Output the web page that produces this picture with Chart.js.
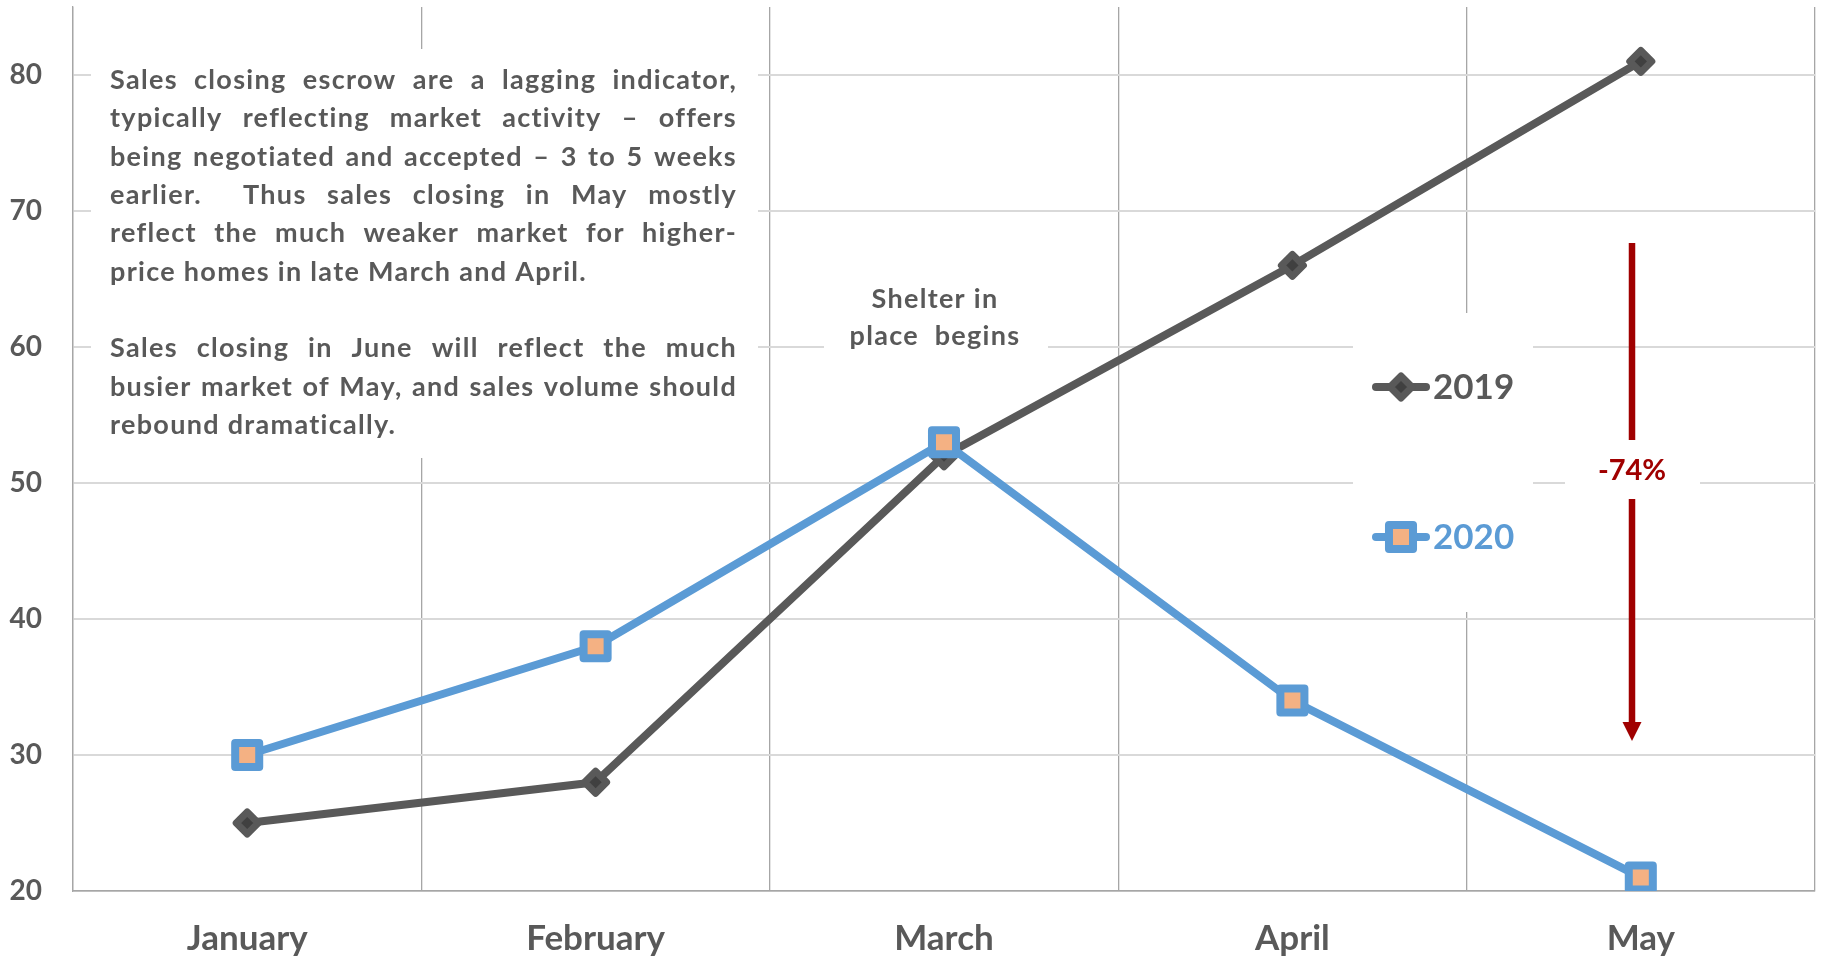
<!DOCTYPE html>
<html>
<head>
<meta charset="utf-8">
<script src="https://cdn.jsdelivr.net/npm/chart.js@4.4.1/dist/chart.umd.min.js"></script>
<style>
  html, body { margin: 0; padding: 0; background: #ffffff; }
  canvas { display: block; }
</style>
</head>
<body>
<canvas id="salesChart" width="1822" height="959"></canvas>
<script>
// Closed sales by month
const months = ['January', 'February', 'March', 'April', 'May'];
const sales2019 = [25, 28, 52, 66, 81];
const sales2020 = [30, 38, 53, 34, 21];
const yTickValues = [20, 30, 40, 50, 60, 70, 80];
const seriesLabels = ['2019', '2020'];

// Commentary text, one entry per printed line
const noteParagraphs = [
  [
    'Sales closing escrow are a lagging indicator,',
    'typically reflecting market activity \u2013 offers',
    'being negotiated and accepted \u2013 3 to 5 weeks',
    'earlier.  Thus sales closing in May mostly',
    'reflect the much weaker market for higher-',
    'price homes in late March and April.'
  ],
  [
    'Sales closing in June will reflect the much',
    'busier market of May, and sales volume should',
    'rebound dramatically.'
  ]
];
const shelterLines = ['Shelter in', 'place  begins'];

const FONT = '"Lato", "Open Sans", sans-serif';
const GREY_TEXT = '#595959';
const RED = '#A00000';

// May year-over-year change, shown next to the arrow
const mayChange = Math.round((sales2020[4] - sales2019[4]) / sales2019[4] * 100);
const changeLabel = mayChange + '%';

function drawJustified(ctx, line, x, baseline, width, justify) {
  if (!justify) { ctx.fillText(line, x, baseline); return; }
  const words = line.split(' ');
  const widths = words.map(w => ctx.measureText(w).width);
  const total = widths.reduce((a, b) => a + b, 0);
  const gap = (width - total) / (words.length - 1);
  let cx = x;
  words.forEach((w, i) => {
    if (w) ctx.fillText(w, cx, baseline);
    cx += widths[i] + gap;
  });
}

function legendMarker(ctx, ds, x, y) {
  ctx.save();
  ctx.lineCap = 'round';
  ctx.lineJoin = 'round';
  ctx.strokeStyle = ds.borderColor;
  ctx.lineWidth = 8;
  ctx.beginPath();
  ctx.moveTo(x - 25, y);
  ctx.lineTo(x + 25, y);
  ctx.stroke();
  ctx.fillStyle = ds.pointBackgroundColor;
  ctx.strokeStyle = ds.pointBorderColor;
  ctx.lineWidth = ds.pointBorderWidth;
  Chart.helpers.drawPoint(ctx, {
    pointStyle: ds.pointStyle,
    radius: ds.pointRadius,
    rotation: 0,
    borderWidth: ds.pointBorderWidth
  }, x, y);
  ctx.restore();
}

function noEdgePadding(scale) {
  scale.paddingTop = 0;
  scale.paddingBottom = 0;
  scale.paddingLeft = 0;
  scale.paddingRight = 0;
}

const annotationPlugin = {
  id: 'annotations',
  beforeDraw(chart) {
    const ctx = chart.ctx;
    ctx.save();
    ctx.fillStyle = '#ffffff';
    ctx.fillRect(0, 0, chart.width, chart.height);
    ctx.restore();
  },
  beforeDatasetsDraw(chart) {
    const ctx = chart.ctx;
    ctx.save();

    // white panels behind the text blocks
    ctx.fillStyle = '#ffffff';
    ctx.fillRect(91, 49, 667, 409);
    ctx.fillRect(824, 264, 224, 90);
    ctx.fillRect(1353, 313, 180, 299);

    // commentary block, justified
    ctx.fillStyle = GREY_TEXT;
    ctx.font = 'bold 27px ' + FONT;
    ctx.letterSpacing = '1.3px';
    ctx.textBaseline = 'alphabetic';
    ctx.textAlign = 'left';
    let row = 0;
    noteParagraphs.forEach(par => {
      par.forEach((line, i) => {
        drawJustified(ctx, line, 110, 89 + row * 38.35, 627, i < par.length - 1);
        row++;
      });
      row++;
    });

    // shelter-in-place note
    ctx.textAlign = 'center';
    ctx.fillText(shelterLines[0], 935, 308);
    ctx.fillText(shelterLines[1], 935, 345);
    ctx.letterSpacing = '0px';

    // legend
    const dsets = chart.data.datasets;
    ctx.font = 'bold 35px ' + FONT;
    ctx.textAlign = 'left';
    [[387, 399], [537, 549]].forEach(([cy, base], i) => {
      const ds = dsets[i];
      legendMarker(ctx, ds, 1401, cy);
      ctx.fillStyle = ds.legendTextColor;
      ctx.fillText(ds.label, 1433, base);
    });

    // decline arrow
    const ax = 1632;
    ctx.strokeStyle = RED;
    ctx.fillStyle = RED;
    ctx.lineWidth = 6.5;
    ctx.beginPath();
    ctx.moveTo(ax, 243);
    ctx.lineTo(ax, 726);
    ctx.stroke();
    ctx.beginPath();
    ctx.moveTo(ax - 9.5, 722);
    ctx.lineTo(ax + 9.5, 722);
    ctx.lineTo(ax, 741);
    ctx.closePath();
    ctx.fill();

    ctx.fillStyle = '#ffffff';
    ctx.fillRect(1565, 440, 135, 59);
    ctx.fillStyle = RED;
    ctx.font = 'bold 29px ' + FONT;
    ctx.textAlign = 'center';
    ctx.fillText(changeLabel, 1632, 480);

    ctx.restore();
    ctx.lineJoin = 'round';
  }
};

Chart.defaults.font.family = FONT;

new Chart(document.getElementById('salesChart'), {
  type: 'line',
  data: {
    labels: months,
    datasets: [
      {
        label: seriesLabels[0],
        data: sales2019,
        order: 2,
        borderColor: '#595959',
        borderWidth: 8,
        borderJoinStyle: 'round',
        borderCapStyle: 'round',
        pointStyle: 'rectRot',
        pointRadius: 11,
        pointBorderWidth: 7,
        pointBackgroundColor: '#404040',
        pointBorderColor: '#595959',
        legendTextColor: '#595959'
      },
      {
        label: seriesLabels[1],
        data: sales2020,
        order: 1,
        borderColor: '#5B9BD5',
        borderWidth: 8,
        borderJoinStyle: 'round',
        borderCapStyle: 'round',
        pointStyle: 'rect',
        pointRadius: 17,
        pointBorderWidth: 8,
        pointBackgroundColor: '#F4B183',
        pointBorderColor: '#5B9BD5',
        legendTextColor: '#5B9BD5'
      }
    ]
  },
  options: {
    responsive: false,
    animation: false,
    devicePixelRatio: 1,
    layout: { autoPadding: false, padding: { top: 7, right: 7, left: 0, bottom: 0 } },
    plugins: {
      legend: { display: false },
      tooltip: { enabled: false },
      title: { display: false }
    },
    scales: {
      x: {
        offset: true,
        grid: { offset: true, color: '#A6A6A6', lineWidth: 1.3, drawTicks: false },
        border: { color: '#A6A6A6', width: 1.5 },
        ticks: {
          color: GREY_TEXT,
          font: { size: 35, weight: 'bold' },
          padding: 27,
          maxRotation: 0
        },
        afterFit(scale) { scale.height = 68; noEdgePadding(scale); }
      },
      y: {
        min: 20,
        max: 85,
        afterBuildTicks(scale) { scale.ticks = yTickValues.map(v => ({ value: v })); },
        grid: { color: '#D9D9D9', lineWidth: 2, drawTicks: false },
        border: { color: '#A6A6A6', width: 1.3 },
        ticks: {
          color: GREY_TEXT,
          font: { size: 28, weight: 'bold' },
          padding: 31
        },
        afterFit(scale) { scale.width = 73; noEdgePadding(scale); }
      }
    }
  },
  plugins: [annotationPlugin]
});
</script>
</body>
</html>
